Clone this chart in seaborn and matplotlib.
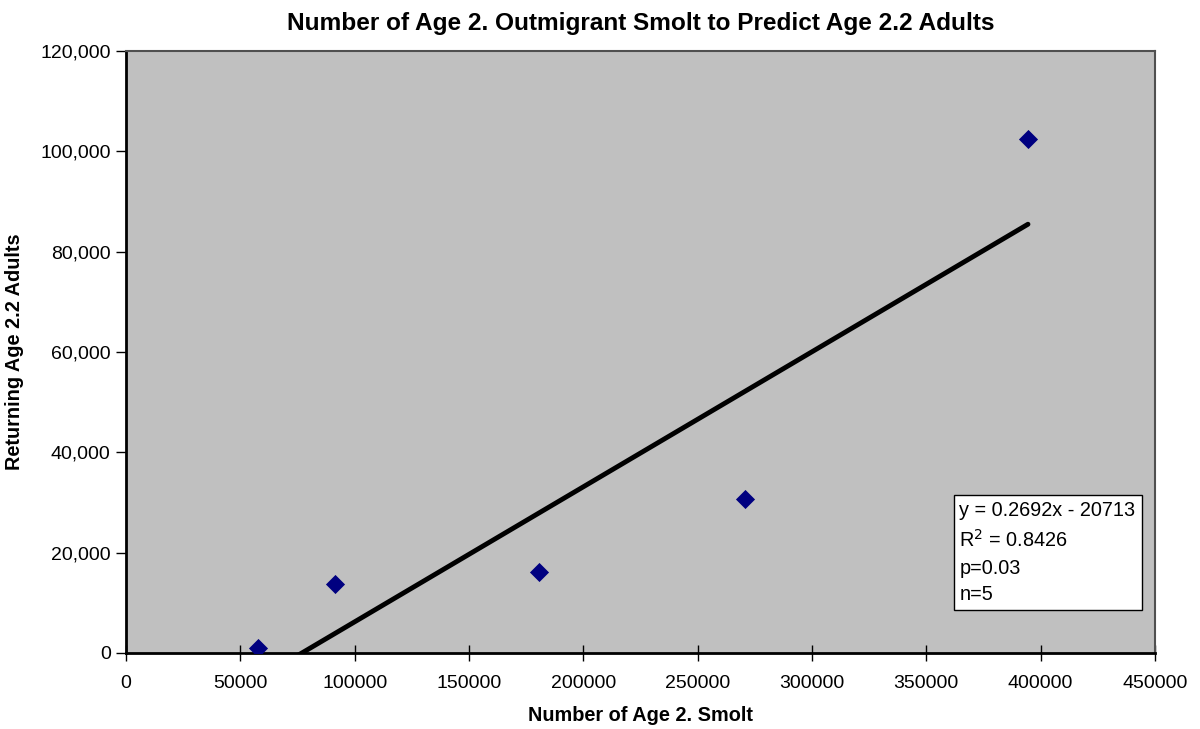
import matplotlib
matplotlib.use("Agg")
import matplotlib.pyplot as plt
import numpy as np
import pandas as pd
import seaborn as sns
from matplotlib.ticker import FuncFormatter, MultipleLocator

# values
smolt = [57700, 91400, 180600, 270700, 394450]
adults = [1000, 13750, 16150, 30700, 102450]

# Excel trendline as printed in the chart
SLOPE = 0.2692
INTERCEPT = -20713
stats_lines = ["y = 0.2692x - 20713", "R$^2$ = 0.8426", "p=0.03", "n=5"]

df = pd.DataFrame({"smolt": smolt, "adults": adults})

sns.set_theme(style="white")
plt.rcParams["font.family"] = ["Liberation Sans", "DejaVu Sans"]
plt.rcParams["text.color"] = "black"
plt.rcParams["axes.labelcolor"] = "black"

fig = plt.figure(figsize=(12, 7.29), dpi=100)
ax = fig.add_axes([0.105, 0.1043, 0.8575, 0.8257])
ax.set_facecolor("#c0c0c0")

# trendline over the data range, clipped at the x axis like Excel does
x_fit = np.array([min(smolt), max(smolt)])
y_fit = SLOPE * x_fit + INTERCEPT
sns.lineplot(x=x_fit, y=y_fit, color="black", linewidth=3.5, ax=ax, zorder=2)

sns.scatterplot(data=df, x="smolt", y="adults", marker="D", s=95,
                color="#000080", edgecolor="#000080", linewidth=0, ax=ax, zorder=3)

ax.set_xlim(0, 450000)
ax.set_ylim(0, 120000)
ax.xaxis.set_major_locator(MultipleLocator(50000))
ax.yaxis.set_major_locator(MultipleLocator(20000))
ax.yaxis.set_major_formatter(FuncFormatter(lambda v, p: f"{int(v):,}"))

ax.tick_params(axis="x", direction="inout", length=12, width=1, colors="black",
               labelsize=14, pad=10, bottom=True)
ax.tick_params(axis="y", direction="out", length=7, width=1, colors="black",
               labelsize=14, pad=4, left=True)

for side in ["left", "bottom"]:
    ax.spines[side].set_color("black")
    ax.spines[side].set_linewidth(2)
for side in ["top", "right"]:
    ax.spines[side].set_color("#505050")
    ax.spines[side].set_linewidth(1.5)

ax.set_xlabel("Number of Age 2. Smolt", fontsize=14.3, fontweight="bold",
              labelpad=10, color="black")
ax.set_ylabel("Returning Age 2.2 Adults", fontsize=14.3, fontweight="bold",
              labelpad=12, color="black")
ax.set_title("Number of Age 2. Outmigrant Smolt to Predict Age 2.2 Adults",
             fontsize=17.6, fontweight="bold", pad=15, color="black")

ax.text(0.810, 0.252, "\n".join(stats_lines), transform=ax.transAxes,
        fontsize=14.3, va="top", ha="left", linespacing=1.5, color="black",
        bbox=dict(boxstyle="square,pad=0.3", facecolor="white",
                  edgecolor="black", linewidth=1))

fig.savefig("out.png", dpi=100)
